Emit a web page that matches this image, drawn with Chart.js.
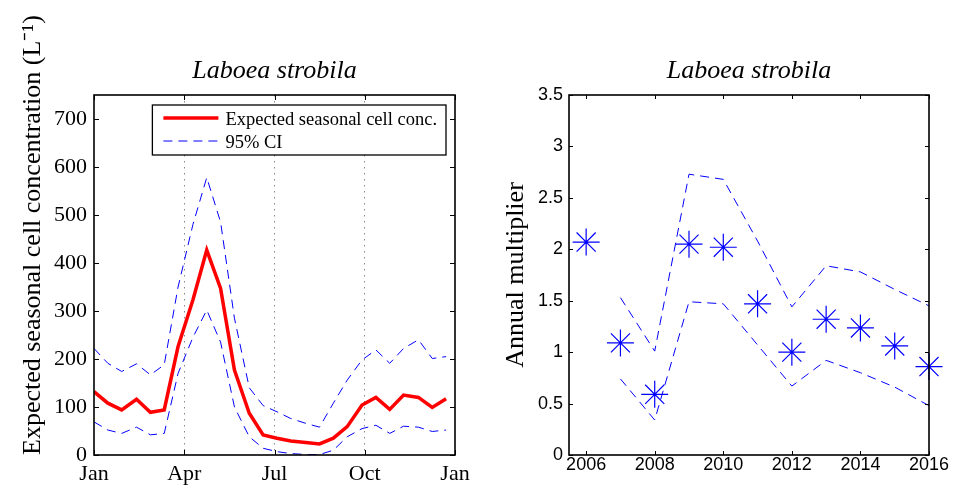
<!DOCTYPE html>
<html><head><meta charset="utf-8">
<script src="https://cdn.jsdelivr.net/npm/chart.js@4.4.1/dist/chart.umd.min.js"></script>
<style>
html,body{margin:0;padding:0;background:#fff;}
#wrap{position:relative;width:954px;height:491px;overflow:hidden;}
.c{position:absolute;top:0;width:477px;height:491px;}
#left{left:0}
#right{left:477px}
</style></head><body>
<div id="wrap"><div class="c" id="left"><canvas id="cl"></canvas></div><div class="c" id="right"><canvas id="cr"></canvas></div></div>
<script>
// ---------- DATA ----------
const chartTitle = 'Laboea strobila';
// left panel: seasonal cycle (x = day of year)
const seasonDays = [0,14,28,43,57,71,85,100,114,128,142,157,171,185,199,214,228,242,256,271,285,299,313,328,342,356];
const expectedConc = [132,108,94,116,89,94,226,323,427,347,177,87,42,35,29,26,23,35,59,104,120,95,125,120,99,117];
const upperCI = [222,191,174,190,167,188,350,480,578,485,285,140,103,90,76,66,58,108,156,198,219,191,222,240,201,205];
const lowerCI = [69,52,45,58,42,45,170,245,302,235,100,38,14,7,3,1,1,10,38,55,62,45,60,58,49,52];
const monthTickDays = [0,91.25,182.5,273.75,365];
const monthTickLabels = ['Jan','Apr','Jul','Oct','Jan'];
const concTicks = [0,100,200,300,400,500,600,700];
const legendLabels = ['Expected seasonal cell conc.','95% CI'];
// right panel: annual multiplier
const years = [2006,2007,2008,2009,2010,2011,2012,2013,2014,2015,2016];
const multiplier = [2.07,1.09,0.59,2.05,2.02,1.47,1.00,1.32,1.235,1.06,0.86];
const multUpper = [null,1.53,1.01,2.73,2.68,2.08,1.44,1.84,1.78,1.61,1.45];
const multLower = [null,0.74,0.34,1.49,1.47,1.07,0.67,0.92,0.80,0.66,0.48];
const yearTicks = [2006,2008,2010,2012,2014,2016];
const multTicks = [0,0.5,1,1.5,2,2.5,3,3.5];

// ---------- HELPERS ----------
const SERIF = '"Liberation Serif", "Times New Roman", serif';
const SANS = '"Liberation Sans", Arial, sans-serif';
const pts = (xs, ys) => xs.map((x,i)=>({x, y: ys[i]})).filter(p=>p.y!==null);

function boxPlugin(tickLen){
  return {id:'box', afterDatasetsDraw(chart){
    const {ctx, chartArea:a, scales:{x,y}} = chart;
    ctx.save();
    ctx.strokeStyle='#000'; ctx.lineWidth=1;
    ctx.beginPath();
    x.ticks.forEach(t=>{const px=Math.round(x.getPixelForValue(t.value))+0.5;
      ctx.moveTo(px,a.bottom); ctx.lineTo(px,a.bottom-tickLen);
      ctx.moveTo(px,a.top); ctx.lineTo(px,a.top+tickLen);});
    y.ticks.forEach(t=>{const py=Math.round(y.getPixelForValue(t.value))+0.5;
      ctx.moveTo(a.left,py); ctx.lineTo(a.left+tickLen,py);
      ctx.moveTo(a.right,py); ctx.lineTo(a.right-tickLen,py);});
    ctx.stroke();
    ctx.lineWidth=1.6;
    ctx.strokeRect(a.left,a.top,a.right-a.left,a.bottom-a.top);
    ctx.restore();
  }};
}
const titlePlugin = {id:'ttl', afterDraw(chart){
  const {ctx, chartArea:a} = chart;
  ctx.save();
  ctx.font = 'italic 26px ' + SERIF;
  ctx.fillStyle = '#000'; ctx.textAlign='center'; ctx.textBaseline='alphabetic';
  ctx.fillText(chartTitle, (a.left+a.right)/2, a.top-17);
  ctx.restore();
}};
const legendPlugin = {id:'lgd', afterDraw(chart){
  const {ctx, chartArea:a} = chart;
  const ds = chart.data.datasets;
  ctx.save();
  ctx.font = '18.5px ' + SERIF;
  const tw = Math.max(...legendLabels.map(l=>ctx.measureText(l).width));
  const w = 11 + 55 + 7 + tw + 9, h = 50;
  const x0 = a.right - 9 - w, y0 = a.top + 10;
  ctx.fillStyle='#fff'; ctx.fillRect(x0,y0,w,h);
  ctx.strokeStyle='#000'; ctx.lineWidth=1.3; ctx.strokeRect(x0,y0,w,h);
  const rows = [{d:ds[2], ly:y0+13, ty:y0+19.5},{d:ds[0], ly:y0+36, ty:y0+42.5}];
  rows.forEach((r,i)=>{
    ctx.beginPath(); ctx.strokeStyle=r.d.borderColor; ctx.lineWidth=r.d.borderWidth;
    ctx.setLineDash(r.d.borderDash||[]);
    ctx.moveTo(x0+11, r.ly); ctx.lineTo(x0+66, r.ly); ctx.stroke();
    ctx.setLineDash([]);
    ctx.fillStyle='#000'; ctx.textAlign='left'; ctx.textBaseline='alphabetic';
    ctx.fillText(legendLabels[i], x0+73, r.ty);
  });
  ctx.restore();
}};

// ---------- LEFT CHART ----------
new Chart(document.getElementById('cl'), {
  type:'scatter',
  data:{datasets:[
    {label:'95% CI', data:pts(seasonDays, upperCI), showLine:true, borderColor:'#0000ff', borderWidth:1, borderDash:[9,6], pointRadius:0, fill:false},
    {label:'95% CI lower', data:pts(seasonDays, lowerCI), showLine:true, borderColor:'#0000ff', borderWidth:1, borderDash:[9,6], pointRadius:0, fill:false},
    {label:'Expected seasonal cell conc.', data:pts(seasonDays, expectedConc), showLine:true, borderColor:'#ff0000', borderWidth:3.5, pointRadius:0, fill:false}
  ]},
  options:{
    responsive:true, maintainAspectRatio:false, animation:false, devicePixelRatio:1,
    layout:{padding:{top:95, right:22, left:0, bottom:0}},
    plugins:{legend:{display:false}, tooltip:{enabled:false}},
    scales:{
      x:{type:'linear', min:0, max:365,
        afterBuildTicks:s=>{s.ticks = monthTickDays.map(v=>({value:v}));},
        afterFit:s=>{s.height=36;},
        ticks:{autoSkip:false, maxRotation:0, padding:6, color:'#000', font:{family:SERIF, size:22},
          callback:(v,i)=>monthTickLabels[i]},
        grid:{drawTicks:false, lineWidth:1, color:c=>(c.index===0||c.index===monthTickDays.length-1)?'rgba(0,0,0,0)':'#888'},
        border:{display:false, dash:[1.5,4.5]}
      },
      y:{type:'linear', min:0, max:750,
        afterBuildTicks:s=>{s.ticks = concTicks.map(v=>({value:v}));},
        afterFit:s=>{s.width=94;},
        ticks:{padding:7, color:'#000', font:{family:SERIF, size:22}, callback:v=>String(v)},
        grid:{display:false, drawTicks:false},
        border:{display:false},
        title:{display:true, text:'Expected seasonal cell concentration (L\u207B\u00B9)', align:'start', color:'#000',
          font:{family:SERIF, size:26}, padding:{top:18, bottom:0}}
      }
    }
  },
  plugins:[boxPlugin(5), titlePlugin, legendPlugin]
});

// ---------- RIGHT CHART ----------
new Chart(document.getElementById('cr'), {
  type:'scatter',
  data:{datasets:[
    {label:'upper', data:pts(years, multUpper), showLine:true, borderColor:'#0000ff', borderWidth:1, borderDash:[9,6], pointRadius:0, fill:false},
    {label:'lower', data:pts(years, multLower), showLine:true, borderColor:'#0000ff', borderWidth:1, borderDash:[9,6], pointRadius:0, fill:false},
    {label:'Annual multiplier', data:pts(years, multiplier), showLine:false, clip:false, borderColor:'#0000ff', backgroundColor:'#0000ff',
      pointStyle:'star', pointRadius:13.5, pointHoverRadius:13.5, pointBorderWidth:1.2}
  ]},
  options:{
    responsive:true, maintainAspectRatio:false, animation:false, devicePixelRatio:1,
    layout:{padding:{top:95, right:25, left:0, bottom:0}},
    plugins:{legend:{display:false}, tooltip:{enabled:false}},
    scales:{
      x:{type:'linear', min:2005.5, max:2016,
        afterBuildTicks:s=>{s.ticks = yearTicks.map(v=>({value:v}));},
        afterFit:s=>{s.height=36;},
        ticks:{autoSkip:false, maxRotation:0, padding:-1, color:'#000', font:{family:SANS, size:18}, callback:v=>String(v)},
        grid:{display:false, drawTicks:false},
        border:{display:false}
      },
      y:{type:'linear', min:0, max:3.5,
        afterBuildTicks:s=>{s.ticks = multTicks.map(v=>({value:v}));},
        afterFit:s=>{s.width=92;},
        ticks:{padding:6, color:'#000', font:{family:SANS, size:18}, callback:v=>String(v)},
        grid:{display:false, drawTicks:false},
        border:{display:false},
        title:{display:true, text:'Annual multiplier', align:'center', color:'#000',
          font:{family:SERIF, size:26}, padding:{top:24, bottom:0}}
      }
    }
  },
  plugins:[boxPlugin(4), titlePlugin]
});
</script>
</body></html>
